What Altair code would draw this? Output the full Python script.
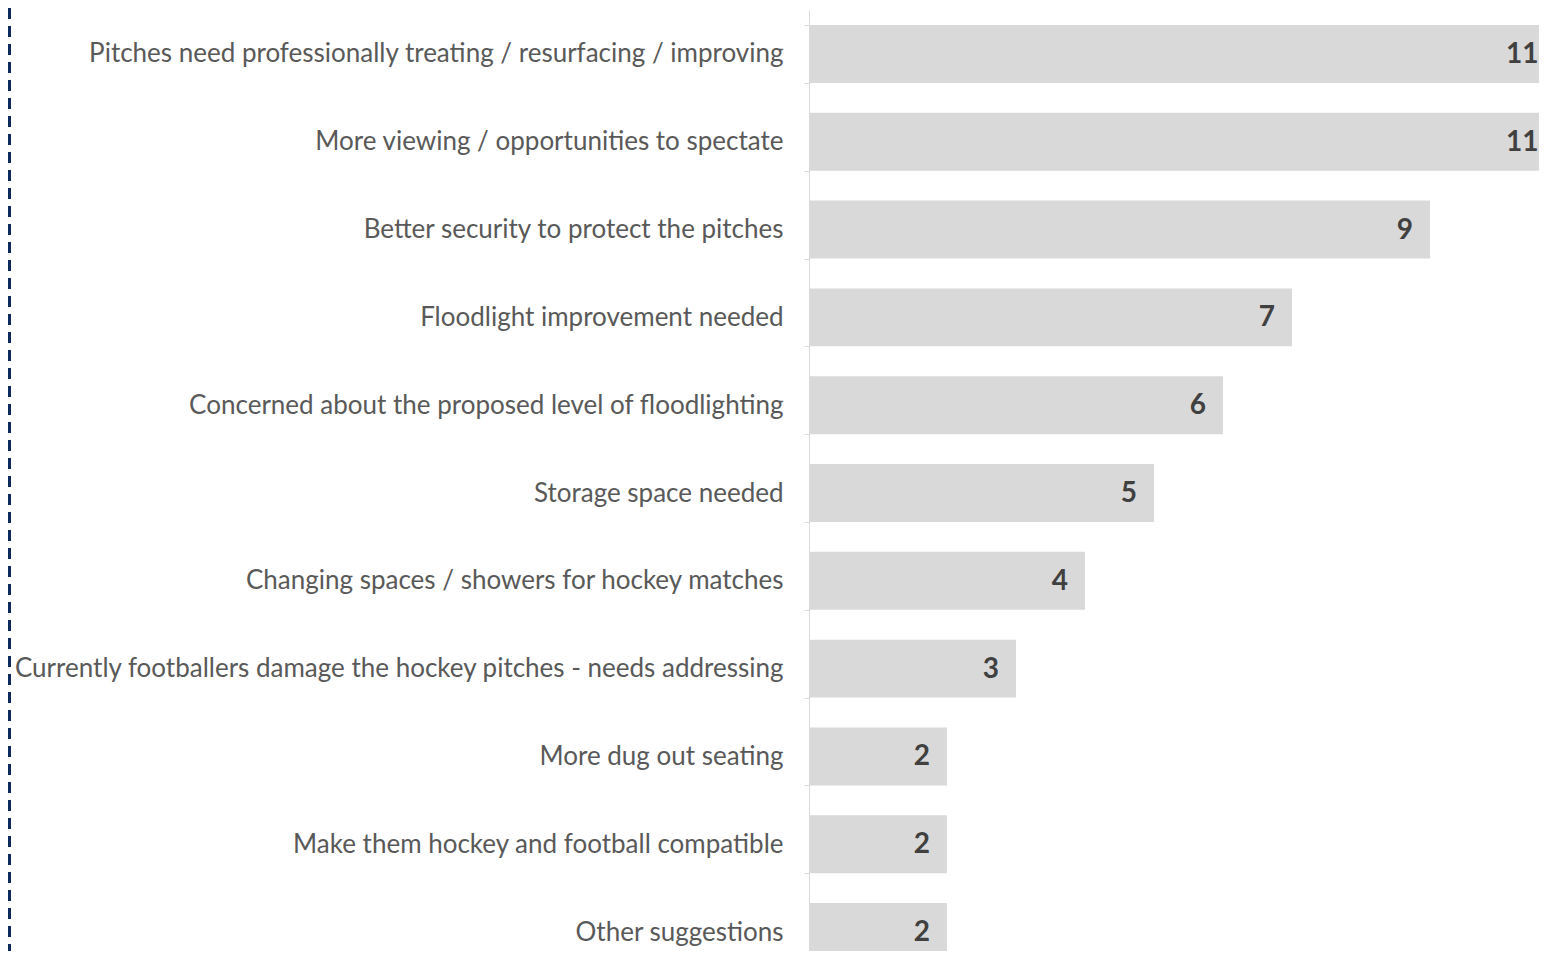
import altair as alt
import pandas as pd

categories = [
    "Pitches need professionally treating / resurfacing / improving",
    "More viewing / opportunities to spectate",
    "Better security to protect the pitches",
    "Floodlight improvement needed ",
    "Concerned about the proposed level of floodlighting",
    "Storage space needed",
    "Changing spaces / showers for hockey matches",
    "Currently footballers damage the hockey pitches - needs addressing",
    "More dug out seating",
    "Make them hockey and football compatible",
    "Other suggestions",
]
values = [11, 11, 9, 7, 6, 5, 4, 3, 2, 2, 2]

df = pd.DataFrame({"category": categories, "value": values})

FONT = "Lato"

y_enc = alt.Y(
    "category:N",
    sort=None,
    title=None,
    scale=alt.Scale(range=[0, 966], paddingInner=0.34, paddingOuter=0.17),
    axis=alt.Axis(
        domainColor="#d9d9d9",
        domainWidth=1,
        tickColor="#d9d9d9",
        tickSize=5,
        tickBand="extent",
        labelFont=FONT,
        labelFontSize=26,
        labelColor="#595959",
        labelPadding=21,
        labelLimit=1000,
        grid=False,
    ),
)
x_scale = alt.Scale(domain=[0, 11], range=[0, 759], nice=False, zero=True)

bars = alt.Chart(df).mark_bar(color="#d9d9d9").encode(
    x=alt.X("value:Q", title=None, scale=x_scale, axis=None), y=y_enc
)

labels = alt.Chart(df).transform_calculate(
    pos="min(datum.value, 10.82)"
).mark_text(
    align="right",
    baseline="middle",
    dx=-17,
    dy=1,
    font=FONT,
    fontSize=28,
    fontWeight="bold",
    color="#404040",
).encode(
    x=alt.X("pos:Q", scale=x_scale, axis=None),
    y=alt.Y("category:N", sort=None),
    text="value:Q",
)

dash = alt.Chart(df).mark_rule(
    color="#0d2a5c", strokeWidth=3, strokeDash=[11, 7]
).encode(x=alt.value(-799.5), y=alt.value(-2), y2=alt.value(942))

chart = (
    alt.layer(bars, labels, dash)
    .properties(
        width=730,
        height=941,
        autosize=alt.AutoSizeParams(type="none"),
        padding={"left": 801, "top": 2, "right": 0, "bottom": 0},
    )
    .configure_view(stroke=None)
)

chart.save("out.html", embed_options={"renderer": "svg", "actions": False})
